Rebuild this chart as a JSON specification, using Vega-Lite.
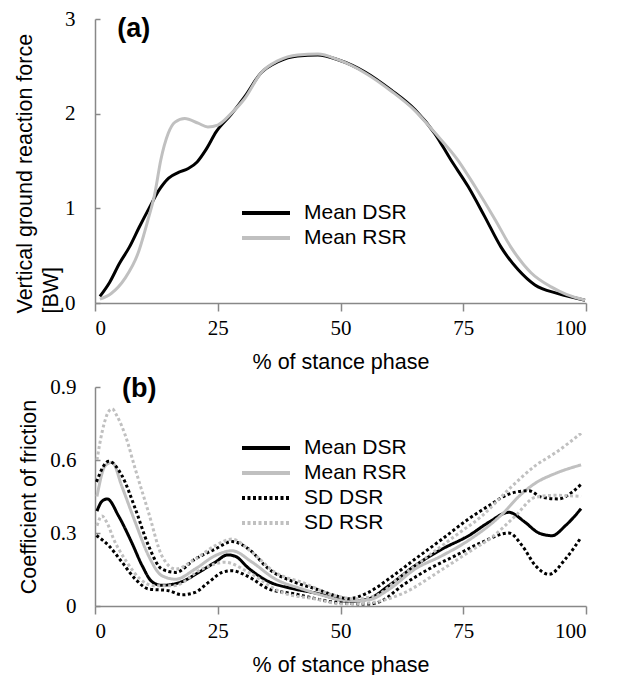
{
  "$schema": "https://vega.github.io/schema/vega-lite/v6.json",
  "padding": {"left": 14, "top": 8, "right": 5, "bottom": 0},
  "config": {
    "view": {"stroke": null},
    "font": "Liberation Sans",
    "axis": {"domainColor": "#888888", "tickColor": "#888888", "grid": false, "labelFont": "Liberation Sans Narrow", "labelColor": "#000000", "titleFont": "Liberation Sans", "titleFontWeight": "normal", "titleFontSize": 21.5, "titleColor": "#000000", "domainWidth": 1.5, "tickWidth": 1.5},
    "axisX": {"tickSize": 8, "labelFontSize": 21, "labelPadding": 6, "titlePadding": 13},
    "axisY": {"tickSize": -5, "labelFontSize": 21},
    "legend": {"symbolType": "M-2,0H2", "symbolSize": 576, "symbolStrokeWidth": 4, "labelFontSize": 21, "labelFont": "Liberation Sans", "rowPadding": 1, "labelOffset": 24, "title": null}
  },
  "resolve": {"scale": {"color": "independent", "strokeDash": "independent"}, "legend": {"color": "independent", "strokeDash": "independent"}},
  "spacing": 2,
  "vconcat": [
    {
      "width": 491,
      "height": 284,
      "layer": [
        {
          "data": {"values": [
            {"x": 1, "y": 0.07, "s": "Mean DSR"}, {"x": 3, "y": 0.22, "s": "Mean DSR"}, {"x": 5, "y": 0.42, "s": "Mean DSR"}, {"x": 7, "y": 0.59, "s": "Mean DSR"}, {"x": 9, "y": 0.8, "s": "Mean DSR"}, {"x": 11, "y": 1.0, "s": "Mean DSR"}, {"x": 13, "y": 1.19, "s": "Mean DSR"}, {"x": 15, "y": 1.32, "s": "Mean DSR"}, {"x": 17, "y": 1.38, "s": "Mean DSR"}, {"x": 19, "y": 1.42, "s": "Mean DSR"}, {"x": 20.8, "y": 1.49, "s": "Mean DSR"}, {"x": 22.6, "y": 1.62, "s": "Mean DSR"}, {"x": 24.7, "y": 1.81, "s": "Mean DSR"}, {"x": 27.7, "y": 1.99, "s": "Mean DSR"}, {"x": 30.5, "y": 2.18, "s": "Mean DSR"}, {"x": 33.8, "y": 2.43, "s": "Mean DSR"}, {"x": 37.3, "y": 2.55, "s": "Mean DSR"}, {"x": 41.3, "y": 2.61, "s": "Mean DSR"}, {"x": 45.4, "y": 2.62, "s": "Mean DSR"}, {"x": 49.5, "y": 2.57, "s": "Mean DSR"}, {"x": 55, "y": 2.44, "s": "Mean DSR"}, {"x": 60.3, "y": 2.25, "s": "Mean DSR"}, {"x": 65.2, "y": 2.04, "s": "Mean DSR"}, {"x": 69.2, "y": 1.79, "s": "Mean DSR"}, {"x": 72.5, "y": 1.51, "s": "Mean DSR"}, {"x": 76, "y": 1.23, "s": "Mean DSR"}, {"x": 79.4, "y": 0.91, "s": "Mean DSR"}, {"x": 82.7, "y": 0.59, "s": "Mean DSR"}, {"x": 86.2, "y": 0.35, "s": "Mean DSR"}, {"x": 89.6, "y": 0.19, "s": "Mean DSR"}, {"x": 94.3, "y": 0.1, "s": "Mean DSR"}, {"x": 99.8, "y": 0.03, "s": "Mean DSR"},
            {"x": 1, "y": 0.04, "s": "Mean RSR"}, {"x": 3.3, "y": 0.1, "s": "Mean RSR"}, {"x": 6.1, "y": 0.26, "s": "Mean RSR"}, {"x": 8.8, "y": 0.53, "s": "Mean RSR"}, {"x": 10.8, "y": 0.88, "s": "Mean RSR"}, {"x": 12.2, "y": 1.16, "s": "Mean RSR"}, {"x": 13.4, "y": 1.51, "s": "Mean RSR"}, {"x": 14.9, "y": 1.79, "s": "Mean RSR"}, {"x": 16.3, "y": 1.91, "s": "Mean RSR"}, {"x": 18.3, "y": 1.95, "s": "Mean RSR"}, {"x": 21, "y": 1.9, "s": "Mean RSR"}, {"x": 23, "y": 1.86, "s": "Mean RSR"}, {"x": 25, "y": 1.88, "s": "Mean RSR"}, {"x": 27.7, "y": 2.0, "s": "Mean RSR"}, {"x": 30.5, "y": 2.16, "s": "Mean RSR"}, {"x": 33.8, "y": 2.43, "s": "Mean RSR"}, {"x": 37.3, "y": 2.56, "s": "Mean RSR"}, {"x": 41.3, "y": 2.62, "s": "Mean RSR"}, {"x": 45.4, "y": 2.63, "s": "Mean RSR"}, {"x": 49.5, "y": 2.57, "s": "Mean RSR"}, {"x": 55, "y": 2.43, "s": "Mean RSR"}, {"x": 60.3, "y": 2.24, "s": "Mean RSR"}, {"x": 65.2, "y": 2.03, "s": "Mean RSR"}, {"x": 69.2, "y": 1.8, "s": "Mean RSR"}, {"x": 73.9, "y": 1.51, "s": "Mean RSR"}, {"x": 77.4, "y": 1.23, "s": "Mean RSR"}, {"x": 81.5, "y": 0.88, "s": "Mean RSR"}, {"x": 84.7, "y": 0.59, "s": "Mean RSR"}, {"x": 88.8, "y": 0.32, "s": "Mean RSR"}, {"x": 92.9, "y": 0.17, "s": "Mean RSR"}, {"x": 96, "y": 0.09, "s": "Mean RSR"}, {"x": 99.8, "y": 0.03, "s": "Mean RSR"}
          ]},
          "mark": {"type": "line", "interpolate": "monotone", "strokeWidth": 3},
          "encoding": {
            "x": {"field": "x", "type": "quantitative", "scale": {"domain": [0, 100]}, "axis": {"values": [0, 25, 50, 75, 100], "title": "% of stance phase"}},
            "y": {"field": "y", "type": "quantitative", "scale": {"domain": [0, 3]}, "axis": {"values": [0, 1, 2, 3], "format": "d", "labelPadding": 25, "title": ["Vertical ground reaction force", "[BW]"], "titleAnchor": "start", "titleAlign": "left", "titleLineHeight": 26, "titlePadding": 2, "titleY": 294}},
            "color": {"field": "s", "type": "nominal", "scale": {"domain": ["Mean DSR", "Mean RSR"], "range": ["#000000", "#c0c0c0"]}, "legend": {"orient": "none", "legendX": 157, "legendY": 180}}
          }
        },
        {
          "data": {"values": [{"x": 7.9, "y": 2.89, "t": "(a)"}]},
          "mark": {"type": "text", "fontWeight": "bold", "fontSize": 27, "font": "Liberation Sans"},
          "encoding": {"x": {"field": "x", "type": "quantitative"}, "y": {"field": "y", "type": "quantitative"}, "text": {"field": "t"}}
        }
      ]
    },
    {
      "width": 491,
      "height": 219,
      "layer": [
        {
          "data": {"values": [
            {"x": 0.4, "y": 0.39, "s": "Mean DSR", "g": "m1"}, {"x": 1.4, "y": 0.43, "s": "Mean DSR", "g": "m1"}, {"x": 2.5, "y": 0.44, "s": "Mean DSR", "g": "m1"}, {"x": 4.8, "y": 0.37, "s": "Mean DSR", "g": "m1"}, {"x": 7.5, "y": 0.26, "s": "Mean DSR", "g": "m1"}, {"x": 9.6, "y": 0.166, "s": "Mean DSR", "g": "m1"}, {"x": 11.6, "y": 0.1, "s": "Mean DSR", "g": "m1"}, {"x": 13.6, "y": 0.085, "s": "Mean DSR", "g": "m1"}, {"x": 17.7, "y": 0.1, "s": "Mean DSR", "g": "m1"}, {"x": 21.1, "y": 0.138, "s": "Mean DSR", "g": "m1"}, {"x": 24.5, "y": 0.18, "s": "Mean DSR", "g": "m1"}, {"x": 27, "y": 0.21, "s": "Mean DSR", "g": "m1"}, {"x": 28.5, "y": 0.205, "s": "Mean DSR", "g": "m1"}, {"x": 31.3, "y": 0.155, "s": "Mean DSR", "g": "m1"}, {"x": 35.4, "y": 0.1, "s": "Mean DSR", "g": "m1"}, {"x": 40.1, "y": 0.072, "s": "Mean DSR", "g": "m1"}, {"x": 45.6, "y": 0.05, "s": "Mean DSR", "g": "m1"}, {"x": 49, "y": 0.03, "s": "Mean DSR", "g": "m1"}, {"x": 51.7, "y": 0.018, "s": "Mean DSR", "g": "m1"}, {"x": 55.7, "y": 0.029, "s": "Mean DSR", "g": "m1"}, {"x": 59.8, "y": 0.083, "s": "Mean DSR", "g": "m1"}, {"x": 65.2, "y": 0.166, "s": "Mean DSR", "g": "m1"}, {"x": 70.7, "y": 0.234, "s": "Mean DSR", "g": "m1"}, {"x": 76.1, "y": 0.289, "s": "Mean DSR", "g": "m1"}, {"x": 80.2, "y": 0.344, "s": "Mean DSR", "g": "m1"}, {"x": 84.3, "y": 0.385, "s": "Mean DSR", "g": "m1"}, {"x": 87.6, "y": 0.344, "s": "Mean DSR", "g": "m1"}, {"x": 90.4, "y": 0.3, "s": "Mean DSR", "g": "m1"}, {"x": 93.1, "y": 0.289, "s": "Mean DSR", "g": "m1"}, {"x": 95.8, "y": 0.33, "s": "Mean DSR", "g": "m1"}, {"x": 99, "y": 0.4, "s": "Mean DSR", "g": "m1"},
            {"x": 0.4, "y": 0.45, "s": "Mean RSR", "g": "m2"}, {"x": 2.1, "y": 0.577, "s": "Mean RSR", "g": "m2"}, {"x": 3.5, "y": 0.59, "s": "Mean RSR", "g": "m2"}, {"x": 5.5, "y": 0.49, "s": "Mean RSR", "g": "m2"}, {"x": 8.2, "y": 0.344, "s": "Mean RSR", "g": "m2"}, {"x": 10.9, "y": 0.207, "s": "Mean RSR", "g": "m2"}, {"x": 13.6, "y": 0.125, "s": "Mean RSR", "g": "m2"}, {"x": 16.4, "y": 0.11, "s": "Mean RSR", "g": "m2"}, {"x": 20.4, "y": 0.152, "s": "Mean RSR", "g": "m2"}, {"x": 24.5, "y": 0.207, "s": "Mean RSR", "g": "m2"}, {"x": 27.9, "y": 0.227, "s": "Mean RSR", "g": "m2"}, {"x": 32, "y": 0.18, "s": "Mean RSR", "g": "m2"}, {"x": 36.7, "y": 0.111, "s": "Mean RSR", "g": "m2"}, {"x": 42.2, "y": 0.07, "s": "Mean RSR", "g": "m2"}, {"x": 47, "y": 0.04, "s": "Mean RSR", "g": "m2"}, {"x": 51.7, "y": 0.02, "s": "Mean RSR", "g": "m2"}, {"x": 55.7, "y": 0.025, "s": "Mean RSR", "g": "m2"}, {"x": 60, "y": 0.07, "s": "Mean RSR", "g": "m2"}, {"x": 65.2, "y": 0.152, "s": "Mean RSR", "g": "m2"}, {"x": 70.7, "y": 0.207, "s": "Mean RSR", "g": "m2"}, {"x": 76.1, "y": 0.27, "s": "Mean RSR", "g": "m2"}, {"x": 83.3, "y": 0.385, "s": "Mean RSR", "g": "m2"}, {"x": 86.3, "y": 0.45, "s": "Mean RSR", "g": "m2"}, {"x": 89.7, "y": 0.505, "s": "Mean RSR", "g": "m2"}, {"x": 93.8, "y": 0.545, "s": "Mean RSR", "g": "m2"}, {"x": 99, "y": 0.58, "s": "Mean RSR", "g": "m2"},
            {"x": 0.3, "y": 0.51, "s": "SD DSR", "g": "d1"}, {"x": 2.8, "y": 0.595, "s": "SD DSR", "g": "d1"}, {"x": 5.5, "y": 0.535, "s": "SD DSR", "g": "d1"}, {"x": 8.2, "y": 0.4, "s": "SD DSR", "g": "d1"}, {"x": 10.9, "y": 0.248, "s": "SD DSR", "g": "d1"}, {"x": 13.6, "y": 0.152, "s": "SD DSR", "g": "d1"}, {"x": 16.4, "y": 0.138, "s": "SD DSR", "g": "d1"}, {"x": 20.4, "y": 0.193, "s": "SD DSR", "g": "d1"}, {"x": 24.5, "y": 0.234, "s": "SD DSR", "g": "d1"}, {"x": 27.9, "y": 0.265, "s": "SD DSR", "g": "d1"}, {"x": 31.3, "y": 0.234, "s": "SD DSR", "g": "d1"}, {"x": 35.4, "y": 0.152, "s": "SD DSR", "g": "d1"}, {"x": 40.8, "y": 0.097, "s": "SD DSR", "g": "d1"}, {"x": 45, "y": 0.07, "s": "SD DSR", "g": "d1"}, {"x": 49, "y": 0.042, "s": "SD DSR", "g": "d1"}, {"x": 51.7, "y": 0.03, "s": "SD DSR", "g": "d1"}, {"x": 55.7, "y": 0.056, "s": "SD DSR", "g": "d1"}, {"x": 59.8, "y": 0.111, "s": "SD DSR", "g": "d1"}, {"x": 65.2, "y": 0.193, "s": "SD DSR", "g": "d1"}, {"x": 70.7, "y": 0.275, "s": "SD DSR", "g": "d1"}, {"x": 76.1, "y": 0.358, "s": "SD DSR", "g": "d1"}, {"x": 80.2, "y": 0.412, "s": "SD DSR", "g": "d1"}, {"x": 84.3, "y": 0.46, "s": "SD DSR", "g": "d1"}, {"x": 88.3, "y": 0.474, "s": "SD DSR", "g": "d1"}, {"x": 91, "y": 0.447, "s": "SD DSR", "g": "d1"}, {"x": 94.4, "y": 0.44, "s": "SD DSR", "g": "d1"}, {"x": 97.1, "y": 0.467, "s": "SD DSR", "g": "d1"}, {"x": 99, "y": 0.5, "s": "SD DSR", "g": "d1"},
            {"x": 0.3, "y": 0.29, "s": "SD DSR", "g": "d2"}, {"x": 2.8, "y": 0.248, "s": "SD DSR", "g": "d2"}, {"x": 5.5, "y": 0.18, "s": "SD DSR", "g": "d2"}, {"x": 8.2, "y": 0.111, "s": "SD DSR", "g": "d2"}, {"x": 10.9, "y": 0.07, "s": "SD DSR", "g": "d2"}, {"x": 15, "y": 0.063, "s": "SD DSR", "g": "d2"}, {"x": 17.7, "y": 0.046, "s": "SD DSR", "g": "d2"}, {"x": 20.4, "y": 0.056, "s": "SD DSR", "g": "d2"}, {"x": 23.1, "y": 0.097, "s": "SD DSR", "g": "d2"}, {"x": 25.9, "y": 0.138, "s": "SD DSR", "g": "d2"}, {"x": 27.9, "y": 0.145, "s": "SD DSR", "g": "d2"}, {"x": 31.3, "y": 0.12, "s": "SD DSR", "g": "d2"}, {"x": 35.4, "y": 0.07, "s": "SD DSR", "g": "d2"}, {"x": 40.8, "y": 0.049, "s": "SD DSR", "g": "d2"}, {"x": 45, "y": 0.03, "s": "SD DSR", "g": "d2"}, {"x": 49, "y": 0.015, "s": "SD DSR", "g": "d2"}, {"x": 55.7, "y": 0.008, "s": "SD DSR", "g": "d2"}, {"x": 58.5, "y": 0.022, "s": "SD DSR", "g": "d2"}, {"x": 62.5, "y": 0.083, "s": "SD DSR", "g": "d2"}, {"x": 68, "y": 0.152, "s": "SD DSR", "g": "d2"}, {"x": 73.4, "y": 0.207, "s": "SD DSR", "g": "d2"}, {"x": 78.8, "y": 0.262, "s": "SD DSR", "g": "d2"}, {"x": 84.3, "y": 0.3, "s": "SD DSR", "g": "d2"}, {"x": 87, "y": 0.248, "s": "SD DSR", "g": "d2"}, {"x": 89.7, "y": 0.166, "s": "SD DSR", "g": "d2"}, {"x": 92.5, "y": 0.13, "s": "SD DSR", "g": "d2"}, {"x": 95.8, "y": 0.193, "s": "SD DSR", "g": "d2"}, {"x": 99, "y": 0.282, "s": "SD DSR", "g": "d2"},
            {"x": 0.4, "y": 0.6, "s": "SD RSR", "g": "r1"}, {"x": 1.5, "y": 0.72, "s": "SD RSR", "g": "r1"}, {"x": 2.8, "y": 0.8, "s": "SD RSR", "g": "r1"}, {"x": 3.5, "y": 0.81, "s": "SD RSR", "g": "r1"}, {"x": 4.5, "y": 0.78, "s": "SD RSR", "g": "r1"}, {"x": 6.2, "y": 0.7, "s": "SD RSR", "g": "r1"}, {"x": 8.2, "y": 0.563, "s": "SD RSR", "g": "r1"}, {"x": 10.9, "y": 0.385, "s": "SD RSR", "g": "r1"}, {"x": 13.6, "y": 0.207, "s": "SD RSR", "g": "r1"}, {"x": 16.4, "y": 0.152, "s": "SD RSR", "g": "r1"}, {"x": 20.4, "y": 0.193, "s": "SD RSR", "g": "r1"}, {"x": 24.5, "y": 0.248, "s": "SD RSR", "g": "r1"}, {"x": 27.9, "y": 0.275, "s": "SD RSR", "g": "r1"}, {"x": 32, "y": 0.22, "s": "SD RSR", "g": "r1"}, {"x": 36.7, "y": 0.138, "s": "SD RSR", "g": "r1"}, {"x": 42.2, "y": 0.097, "s": "SD RSR", "g": "r1"}, {"x": 49, "y": 0.042, "s": "SD RSR", "g": "r1"}, {"x": 53, "y": 0.03, "s": "SD RSR", "g": "r1"}, {"x": 57.1, "y": 0.042, "s": "SD RSR", "g": "r1"}, {"x": 62.5, "y": 0.125, "s": "SD RSR", "g": "r1"}, {"x": 68, "y": 0.207, "s": "SD RSR", "g": "r1"}, {"x": 73.4, "y": 0.289, "s": "SD RSR", "g": "r1"}, {"x": 78.8, "y": 0.37, "s": "SD RSR", "g": "r1"}, {"x": 84.3, "y": 0.48, "s": "SD RSR", "g": "r1"}, {"x": 89.7, "y": 0.577, "s": "SD RSR", "g": "r1"}, {"x": 93.8, "y": 0.63, "s": "SD RSR", "g": "r1"}, {"x": 99, "y": 0.71, "s": "SD RSR", "g": "r1"},
            {"x": 0.4, "y": 0.33, "s": "SD RSR", "g": "r2"}, {"x": 1.4, "y": 0.37, "s": "SD RSR", "g": "r2"}, {"x": 2.5, "y": 0.34, "s": "SD RSR", "g": "r2"}, {"x": 3.8, "y": 0.275, "s": "SD RSR", "g": "r2"}, {"x": 6.5, "y": 0.18, "s": "SD RSR", "g": "r2"}, {"x": 9.2, "y": 0.111, "s": "SD RSR", "g": "r2"}, {"x": 12, "y": 0.083, "s": "SD RSR", "g": "r2"}, {"x": 16, "y": 0.083, "s": "SD RSR", "g": "r2"}, {"x": 21.8, "y": 0.152, "s": "SD RSR", "g": "r2"}, {"x": 26.5, "y": 0.18, "s": "SD RSR", "g": "r2"}, {"x": 31.3, "y": 0.138, "s": "SD RSR", "g": "r2"}, {"x": 38, "y": 0.056, "s": "SD RSR", "g": "r2"}, {"x": 44.9, "y": 0.029, "s": "SD RSR", "g": "r2"}, {"x": 50.3, "y": 0.008, "s": "SD RSR", "g": "r2"}, {"x": 54.3, "y": 0.01, "s": "SD RSR", "g": "r2"}, {"x": 58, "y": 0.02, "s": "SD RSR", "g": "r2"}, {"x": 62.5, "y": 0.05, "s": "SD RSR", "g": "r2"}, {"x": 70.7, "y": 0.15, "s": "SD RSR", "g": "r2"}, {"x": 76, "y": 0.22, "s": "SD RSR", "g": "r2"}, {"x": 81, "y": 0.285, "s": "SD RSR", "g": "r2"}, {"x": 85.6, "y": 0.37, "s": "SD RSR", "g": "r2"}, {"x": 89.7, "y": 0.447, "s": "SD RSR", "g": "r2"}, {"x": 93.8, "y": 0.455, "s": "SD RSR", "g": "r2"}, {"x": 99, "y": 0.45, "s": "SD RSR", "g": "r2"}
          ]},
          "mark": {"type": "line", "interpolate": "monotone", "strokeWidth": 3},
          "encoding": {
            "x": {"field": "x", "type": "quantitative", "scale": {"domain": [0, 100]}, "axis": {"values": [0, 25, 50, 75, 100], "title": "% of stance phase"}},
            "y": {"field": "y", "type": "quantitative", "scale": {"domain": [0, 0.9]}, "axis": {"values": [0, 0.3, 0.6, 0.9], "format": ".1~f", "labelPadding": 24, "title": "Coefficient of friction", "titlePadding": 9}},
            "detail": {"field": "g"},
            "color": {"field": "s", "type": "nominal", "scale": {"domain": ["Mean DSR", "Mean RSR", "SD DSR", "SD RSR"], "range": ["#000000", "#c0c0c0", "#000000", "#c0c0c0"]}, "legend": {"orient": "none", "legendX": 157, "legendY": 47}},
            "strokeDash": {"field": "s", "type": "nominal", "scale": {"domain": ["Mean DSR", "Mean RSR", "SD DSR", "SD RSR"], "range": [[1, 0], [1, 0], [3, 2.5], [3, 2.5]]}, "legend": {"orient": "none", "legendX": 157, "legendY": 47}}
          }
        },
        {
          "data": {"values": [{"x": 9, "y": 0.89, "t": "(b)"}]},
          "mark": {"type": "text", "fontWeight": "bold", "fontSize": 27, "font": "Liberation Sans"},
          "encoding": {"x": {"field": "x", "type": "quantitative"}, "y": {"field": "y", "type": "quantitative"}, "text": {"field": "t"}}
        }
      ]
    }
  ]
}
